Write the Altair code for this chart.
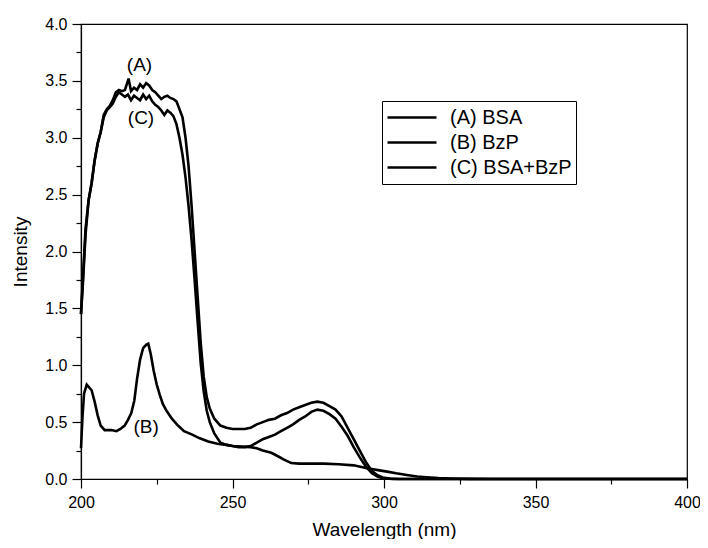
import altair as alt
import pandas as pd

# ---- data ----
a_x = [200, 200.7, 201.5, 202.5, 203.5, 204.5, 205.5, 206.5, 207.5, 208.5, 209.5, 210.5,
       211.5, 212.5, 213.5, 214.5, 215.7, 216.5, 217.5, 218.5, 219.5, 220.5, 221.5, 222.5,
       223.5, 224.5, 225.5, 226.5, 227.5, 228.5, 229.5, 230.5, 231.5, 232.5, 233.5, 234.5,
       235.5, 236.5, 237.5, 238.5, 239.5, 240.5, 241.5, 242.5, 244, 246, 248, 250, 252, 254,
       256, 258, 260, 262, 264, 266, 268, 270, 272, 274, 276, 278, 280, 282, 284, 286, 288,
       290, 292, 294, 296, 298, 300, 302, 305, 400]
a_y = [1.45, 1.8, 2.2, 2.45, 2.6, 2.8, 2.95, 3.05, 3.2, 3.25, 3.28, 3.33,
       3.4, 3.42, 3.41, 3.42, 3.52, 3.41, 3.44, 3.42, 3.47, 3.44, 3.48, 3.46,
       3.42, 3.40, 3.37, 3.34, 3.36, 3.37, 3.35, 3.34, 3.32, 3.25, 3.18, 3.0,
       2.75, 2.4, 2.0, 1.6, 1.2, 0.9, 0.72, 0.62, 0.53, 0.47, 0.45, 0.44, 0.44, 0.44,
       0.45, 0.48, 0.5, 0.52, 0.53, 0.56, 0.58, 0.61, 0.63, 0.65, 0.67, 0.68, 0.67, 0.64,
       0.61, 0.55, 0.45, 0.35, 0.25, 0.15, 0.07, 0.03, 0.01, 0.003, 0, 0]

b_x = [200, 200.5, 201, 201.9, 203.5, 204.5, 205.5, 206.5, 207.8, 210, 211.7, 213, 214.4,
       215.5, 216.6, 217.6, 218.5, 219.5, 220.5, 221.5, 222.2, 223, 224, 225, 226, 227, 228,
       229, 230, 232, 234, 236.7, 239, 242, 245, 248, 250, 253, 256, 258, 260, 262.8, 265,
       267, 269.4, 272, 275, 280, 285, 290, 294.4, 298, 301, 304, 307.5, 311, 314, 318, 322,
       328, 335, 400]
b_y = [0.27, 0.55, 0.75, 0.83, 0.78, 0.68, 0.56, 0.47, 0.43, 0.43, 0.42, 0.44, 0.47,
       0.52, 0.58, 0.69, 0.88, 1.05, 1.15, 1.18, 1.19, 1.1, 0.95, 0.83, 0.74, 0.66, 0.61,
       0.57, 0.53, 0.47, 0.42, 0.39, 0.36, 0.33, 0.31, 0.3, 0.29, 0.285, 0.28, 0.27, 0.25, 0.23, 0.2,
       0.17, 0.14, 0.135, 0.135, 0.135, 0.13, 0.12, 0.095, 0.078, 0.065, 0.05, 0.035, 0.022, 0.015, 0.008, 0.004,
       0.001, 0, 0]

c_x = [200, 200.7, 201.5, 202.5, 203.5, 204.5, 205.5, 206.5, 207.5, 208.5, 209.5, 210.5,
       211.5, 212.5, 213.5, 214.5, 215.5, 216.5, 217.5, 218.5, 219.5, 220.5, 221.5, 222.5,
       223.5, 224.5, 225.5, 226.5, 227.5, 228.5, 229.5, 230.5, 231.5, 232.5, 233.5, 234.5,
       235.5, 236.5, 237.5, 238.5, 239.5, 240.5, 241.5, 242.5, 244, 246, 248, 250, 252, 254,
       256, 258, 260, 262, 264, 266, 268, 270, 272, 274, 276, 278, 280, 282, 284, 286, 288,
       290, 292, 294, 296, 298, 300, 303, 400]
c_y = [1.45, 1.75, 2.15, 2.45, 2.6, 2.8, 2.95, 3.05, 3.18, 3.24, 3.27, 3.3,
       3.36, 3.4, 3.38, 3.36, 3.38, 3.33, 3.37, 3.35, 3.33, 3.38, 3.34, 3.37,
       3.32, 3.29, 3.27, 3.24, 3.2, 3.24, 3.22, 3.19, 3.12, 3.0, 2.85, 2.65,
       2.4, 2.1, 1.75, 1.38, 1.02, 0.77, 0.6, 0.5, 0.4, 0.32, 0.3, 0.29, 0.28, 0.28,
       0.29, 0.32, 0.35, 0.37, 0.39, 0.42, 0.45, 0.48, 0.52, 0.55, 0.59, 0.61, 0.6, 0.57,
       0.53, 0.46, 0.38, 0.28, 0.19, 0.11, 0.05, 0.02, 0.005, 0, 0]

series_names = ["(A) BSA", "(B) BzP", "(C) BSA+BzP"]

ann_text = ["(A)", "(B)", "(C)"]
ann_x = [219.3, 221.5, 219.8]
ann_y = [3.64, 0.46, 3.17]

x_major = [200, 250, 300, 350, 400]
x_minor = [225, 275, 325, 375]
y_major = [0, 0.5, 1.0, 1.5, 2.0, 2.5, 3.0, 3.5, 4.0]
y_minor = [0.25, 0.75, 1.25, 1.75, 2.25, 2.75, 3.25, 3.75]

rows = []
for name, xs, ys in zip(series_names, [a_x, b_x, c_x], [a_y, b_y, c_y]):
    for i, (xv, yv) in enumerate(zip(xs, ys)):
        rows.append({"series": name, "wl": xv, "val": yv, "order": i})
df = pd.DataFrame(rows)
ann = pd.DataFrame({"t": ann_text, "wl": ann_x, "val": ann_y})

FONT = "Liberation Sans"
xscale = alt.Scale(domain=[200, 400], nice=False)
yscale = alt.Scale(domain=[0, 4], nice=False)

lines = alt.Chart(df).mark_line(strokeWidth=2.6, color="black").encode(
    x=alt.X("wl:Q", scale=xscale,
            axis=alt.Axis(values=x_major, title="Wavelength (nm)", format="d",
                          tickSize=9, labelPadding=6, titlePadding=10, labelFlush=False)),
    y=alt.Y("val:Q", scale=yscale,
            axis=alt.Axis(values=y_major, title="Intensity", format=".1f",
                          tickSize=9, labelPadding=5, titlePadding=14)),
    color=alt.Color("series:N",
                    scale=alt.Scale(domain=series_names, range=["black", "black", "black"]),
                    legend=alt.Legend(title=None, orient="none", legendX=301, legendY=77,
                                      symbolType="stroke", symbolStrokeWidth=2.6,
                                      symbolSize=2401, labelFontSize=20, labelFont=FONT,
                                      strokeColor="black", fillColor="white",
                                      padding=4, labelOffset=12, rowPadding=0,
                                      clipHeight=25)),
    order="order:Q",
    detail="series:N",
)

minor = alt.Chart(df).mark_point(opacity=0).encode(
    x=alt.X("wl:Q", scale=xscale,
            axis=alt.Axis(values=x_minor, orient="bottom", labels=False, domain=False,
                          tickSize=5, title=None)),
    y=alt.Y("val:Q", scale=yscale,
            axis=alt.Axis(values=y_minor, orient="left", labels=False, domain=False,
                          tickSize=5, title=None)),
)

text = alt.Chart(ann).mark_text(fontSize=19, font=FONT, color="black").encode(
    x=alt.X("wl:Q", scale=xscale, axis=None),
    y=alt.Y("val:Q", scale=yscale, axis=None),
    text="t:N",
)

chart = alt.layer(lines, minor, text).resolve_axis(x="independent", y="independent").properties(
    width=606, height=455,
    autosize=alt.AutoSizeParams(type="none"),
    padding={"left": 73, "top": 16, "right": 13, "bottom": 60},
).configure_view(stroke="black", strokeWidth=1.2).configure_axis(
    domainColor="black", tickColor="black", labelColor="black", titleColor="black",
    labelFont=FONT, titleFont=FONT, labelFontSize=16, titleFontSize=19,
    grid=False, titleFontWeight="normal", domainWidth=1.2, tickWidth=1.2,
)

chart.save("out.html", embed_options={"renderer": "svg", "actions": False})
